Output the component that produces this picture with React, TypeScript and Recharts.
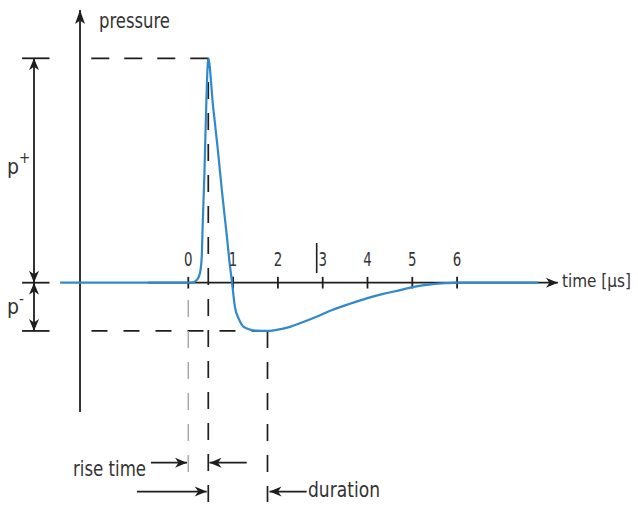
import React from 'react';
import { LineChart, Line, XAxis, YAxis, ReferenceLine, ReferenceDot } from 'recharts';

// pressure pulse: time in µs, pressure relative to the positive peak
const time = [-2.86, -0.9, -0.07, 0.08, 0.19, 0.26, 0.3, 0.32, 0.36, 0.4, 0.446, 0.55, 0.66, 0.76, 0.87, 0.92, 0.97, 1.04, 1.13, 1.23, 1.38, 1.53, 1.77, 1.94, 2.27, 2.49, 2.85, 3.21, 3.59, 3.98, 4.35, 4.73, 5.0, 5.46, 5.75, 6.0, 7.81];
const pressure = [0, 0, 0, 0, 0.012, 0.042, 0.116, 0.25, 0.487, 0.784, 1, 0.792, 0.591, 0.391, 0.19, 0.092, 0.012, -0.107, -0.162, -0.196, -0.209, -0.214, -0.215, -0.211, -0.197, -0.181, -0.153, -0.122, -0.095, -0.07, -0.05, -0.033, -0.02, -0.006, -0.002, 0, 0];
const tickValues = [0, 1, 2, 3, 4, 5, 6];

const data = time.map((t, i) => ({ t, p: pressure[i] }));

// view window (data units)
const T_MIN = -4.203;
const T_MAX = 10.038;
const P_MIN = -1.0085;
const P_MAX = 1.2598;

// annotation positions (data units)
const PEAK_T = 0.446;
const MIN_T = 1.768;
const MIN_P = -0.215;
const AXIS_T = -2.417;
const DIM_T = -3.444;
const CAP_L = -3.71;
const CAP_R = -3.098;
const ROW1_P = -0.802;
const ROW2_P = -0.931;
const BOTTOM_P = -0.977;

const INK = '#1e1e1e';
const BLUE = '#3089cc';
const FONT = "'Liberation Sans Narrow', 'DejaVu Sans Condensed', sans-serif";

function head(tx: number, ty: number, fx: number, fy: number, len = 12, half = 5) {
  const dx = tx - fx;
  const dy = ty - fy;
  const d = Math.hypot(dx, dy) || 1;
  const ux = dx / d, uy = dy / d;
  const nx = -uy, ny = ux;
  const bx = tx - ux * len, by = ty - uy * len;
  const mx = tx - ux * (len - 3.5), my = ty - uy * (len - 3.5);
  return `M${tx},${ty} L${bx + nx * half},${by + ny * half} L${mx},${my} L${bx - nx * half},${by - ny * half} Z`;
}

type LineOpts = { color?: string; width?: number; dash?: string; start?: boolean; end?: boolean; len?: number };

const lineShape = (o: LineOpts = {}) => (props: any) => {
  const { x1, y1, x2, y2 } = props;
  const c = o.color ?? INK;
  return (
    <g>
      <line x1={x1} y1={y1} x2={x2} y2={y2} stroke={c} strokeWidth={o.width ?? 1.8} strokeDasharray={o.dash} />
      {o.start && <path d={head(x1, y1, x2, y2, o.len)} fill={c} />}
      {o.end && <path d={head(x2, y2, x1, y1, o.len)} fill={c} />}
    </g>
  );
};

const textShape = (content: React.ReactNode, width?: number, anchor: 'start' | 'middle' = 'start', size = 21) => (props: any) => (
  <text
    x={props.cx}
    y={props.cy}
    textAnchor={anchor}
    fontFamily={FONT}
    fontSize={size}
    fill="#333"
    textLength={width}
    lengthAdjust={width ? 'spacingAndGlyphs' : undefined}
  >
    {content}
  </text>
);

const seg = (ta: number, pa: number, tb: number, pb: number) => [{ x: ta, y: pa }, { x: tb, y: pb }] as any;

export default function App() {
  return (
    <div style={{ position: 'absolute', left: 0, top: 0, width: 638, height: 509, background: '#fff' }}>
      <LineChart width={638} height={509} data={data} margin={{ top: 0, right: 0, bottom: 0, left: 0 }}>
        <XAxis type="number" dataKey="t" domain={[T_MIN, T_MAX]} hide allowDataOverflow />
        <YAxis type="number" domain={[P_MIN, P_MAX]} hide allowDataOverflow />

        {/* axes */}
        <ReferenceLine segment={seg(AXIS_T, -0.576, AXIS_T, 1.215)} shape={lineShape({ end: true, len: 14, width: 1.8 })} />
        <ReferenceLine segment={seg(-0.9, 0, 8.25, 0)} shape={lineShape({ end: true })} />
        {tickValues.map((v) => (
          <ReferenceLine key={`tk${v}`} segment={seg(v, 0.026, v, -0.026)} shape={lineShape()} />
        ))}
        <ReferenceLine segment={seg(2.866, 0.177, 2.866, 0.043)} shape={lineShape({ width: 1.6 })} />

        {/* p+ / p- dimensions */}
        {[1, 0, MIN_P].map((p) => (
          <ReferenceLine key={`cap${p}`} segment={seg(CAP_L, p, CAP_R, p)} shape={lineShape()} />
        ))}
        <ReferenceLine segment={seg(DIM_T, 1, DIM_T, 0)} shape={lineShape({ start: true, end: true })} />
        <ReferenceLine segment={seg(DIM_T, 0, DIM_T, MIN_P)} shape={lineShape({ start: true, end: true })} />

        {/* dashed guides */}
        <ReferenceLine segment={seg(PEAK_T, 1, AXIS_T, 1)} shape={lineShape({ dash: '18 15', width: 1.7 })} />
        <ReferenceLine segment={seg(MIN_T, MIN_P, AXIS_T, MIN_P)} shape={lineShape({ dash: '16 16', width: 1.7 })} />
        <ReferenceLine segment={seg(PEAK_T, BOTTOM_P, PEAK_T, 1)} shape={lineShape({ dash: '17 14', width: 1.7 })} />
        <ReferenceLine segment={seg(MIN_T, MIN_P, MIN_T, BOTTOM_P)} shape={lineShape({ dash: '17 14', width: 1.7 })} />
        <ReferenceLine segment={seg(0, -0.844, 0, -0.033)} shape={lineShape({ dash: '17 14', width: 1.5, color: '#a8a8a8' })} />

        {/* rise time / duration arrows */}
        <ReferenceLine segment={seg(-0.833, ROW1_P, -0.029, ROW1_P)} shape={lineShape({ end: true })} />
        <ReferenceLine segment={seg(1.304, ROW1_P, 0.473, ROW1_P)} shape={lineShape({ end: true })} />
        <ReferenceLine segment={seg(-1.145, ROW2_P, 0.411, ROW2_P)} shape={lineShape({ end: true })} />
        <ReferenceLine segment={seg(2.643, ROW2_P, 1.813, ROW2_P)} shape={lineShape({ end: true })} />

        <Line
          type="monotone"
          dataKey="p"
          stroke={BLUE}
          strokeWidth={2.2}
          dot={false}
          activeDot={false}
          isAnimationActive={false}
        />

        {/* labels */}
        {tickValues.map((v) => (
          <ReferenceDot key={`lb${v}`} x={v} y={0.074} r={0} shape={textShape(String(v), 8.5, 'middle', 19.5)} />
        ))}
        <ReferenceDot x={-1.993} y={1.135} r={0} shape={textShape('pressure', 71)} />
        <ReferenceDot x={8.341} y={-0.019} r={0} shape={textShape('time [µs]', 69, 'start', 18)} />
        <ReferenceDot x={-2.573} y={-0.861} r={0} shape={textShape('rise time', 73)} />
        <ReferenceDot x={2.672} y={-0.955} r={0} shape={textShape('duration', 72)} />
        <ReferenceDot
          x={-4.047}
          y={0.484}
          r={0}
          shape={textShape(
            <>
              <tspan>p</tspan>
              <tspan dy={-11} fontSize={15}>+</tspan>
            </>
          )}
        />
        <ReferenceDot
          x={-4.047}
          y={-0.139}
          r={0}
          shape={textShape(
            <>
              <tspan>p</tspan>
              <tspan dy={-10} fontSize={15}>-</tspan>
            </>
          )}
        />
      </LineChart>
    </div>
  );
}
